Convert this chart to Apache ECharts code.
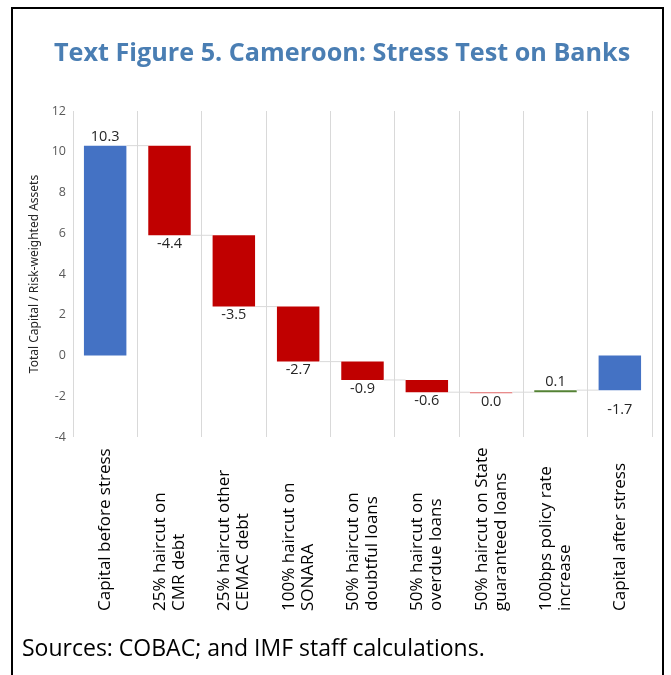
<!DOCTYPE html>
<html>
<head>
<meta charset="utf-8">
<script src="https://cdn.jsdelivr.net/npm/echarts@6/dist/echarts.min.js"></script>
<style>
  html, body { margin: 0; padding: 0; background: #fff; }
  #main { width: 671px; height: 675px; }
</style>
</head>
<body>
<div id="main"></div>
<script>
// categories on the x axis
var categories = [
  'Capital before stress',
  '25% haircut on\nCMR debt',
  '25% haircut other\nCEMAC debt',
  '100% haircut on\nSONARA',
  '50% haircut on\ndoubtful loans',
  '50% haircut on\noverdue loans',
  '50% haircut on State\nguaranteed loans',
  '100bps policy rate\nincrease',
  'Capital after stress'
];
// value of each bar (totals for first and last, changes in between)
var changes = [10.3, -4.4, -3.5, -2.7, -0.9, -0.6, 0.0, 0.1, -1.7];
var isTotal = [1, 0, 0, 0, 0, 0, 0, 0, 1];
// y axis ticks
var yMin = -4, yMax = 12, yStep = 2;

var font = "'Open Sans', 'Noto Sans', sans-serif";

// build waterfall rows: [index, start, end, value, total, hasNext]
var rows = [];
var running = 0;
for (var i = 0; i < changes.length; i++) {
  var start, end;
  if (isTotal[i]) { start = 0; end = changes[i]; }
  else { start = running; end = running + changes[i]; }
  running = end;
  rows.push([i, start, end, changes[i], isTotal[i], i < changes.length - 1 ? 1 : 0]);
}

function renderItem(params, api) {
  var idx = api.value(0);
  var s = api.value(1), e = api.value(2), v = api.value(3);
  var total = api.value(4), hasNext = api.value(5);
  var band = api.size([1, 0])[0];
  var bw = band * 0.66;
  var top = api.coord([idx, Math.max(s, e)]);
  var bot = api.coord([idx, Math.min(s, e)]);
  var h = Math.max(1, bot[1] - top[1]);
  var x0 = top[0] - bw / 2;
  var color = total ? '#4472C4' : (v < 0 ? '#C00000' : (v > 0 ? '#548235' : '#E06666'));
  var children = [{
    type: 'rect',
    shape: { x: x0, y: top[1], width: bw, height: h },
    style: { fill: color }
  }];
  if (hasNext) {
    var lvl = api.coord([idx, e]);
    children.push({
      type: 'line',
      shape: { x1: x0 + bw, y1: lvl[1], x2: x0 + band, y2: lvl[1] },
      style: { stroke: '#d9d9d9', lineWidth: 1 }
    });
  }
  var above = v > 0;
  var gap = (total && v < 0) ? 12 : 1;
  children.push({
    type: 'text',
    style: {
      text: v.toFixed(1),
      x: top[0],
      y: above ? top[1] - 1 : top[1] + h + gap,
      align: 'center',
      verticalAlign: above ? 'bottom' : 'top',
      fill: '#262626',
      font: '14.5px ' + font
    }
  });
  return { type: 'group', children: children };
}

var chart = echarts.init(document.getElementById('main'));
chart.setOption({
  animation: false,
  title: {
    text: 'Text Figure 5. Cameroon: Stress Test on Banks',
    left: 49,
    top: 36,
    textStyle: { color: '#4A7EB3', fontWeight: 'bold', fontSize: 25.2, fontFamily: font }
  },
  grid: { left: 73, right: 19, top: 111, bottom: 238 },
  xAxis: {
    type: 'category',
    data: categories,
    axisLine: { show: false },
    axisTick: { show: false },
    splitLine: { show: true, lineStyle: { color: '#d9d9d9' } },
    axisLabel: {
      interval: 0,
      rotate: 90,
      align: 'left',
      verticalAlign: 'middle',
      margin: 174,
      fontSize: 17,
      lineHeight: 19,
      color: '#000',
      fontFamily: font
    }
  },
  yAxis: {
    type: 'value',
    min: yMin, max: yMax, interval: yStep,
    name: 'Total Capital / Risk-weighted Assets',
    nameLocation: 'middle',
    nameRotate: 90,
    nameGap: 30,
    nameTextStyle: { fontSize: 12, color: '#262626', fontFamily: "'Liberation Sans Narrow', 'Noto Sans', sans-serif" },
    axisLine: { show: false },
    axisTick: { show: false },
    splitLine: { show: false },
    axisLabel: { color: '#595959', fontSize: 12.5, margin: 7, fontFamily: font }
  },
  graphic: [
    {
      type: 'polyline',
      shape: { points: [[12, 675], [12, 8], [663, 8], [663, 675]] },
      style: { stroke: '#000', lineWidth: 2, fill: null }
    },
    {
      type: 'text',
      left: 22, top: 638,
      style: { text: 'Sources: COBAC; and IMF staff calculations.', font: '23px ' + font, fill: '#000' }
    }
  ],
  series: [{
    type: 'custom',
    renderItem: renderItem,
    encode: { x: 0, y: [1, 2] },
    data: rows,
    clip: false
  }]
});
</script>
</body>
</html>
